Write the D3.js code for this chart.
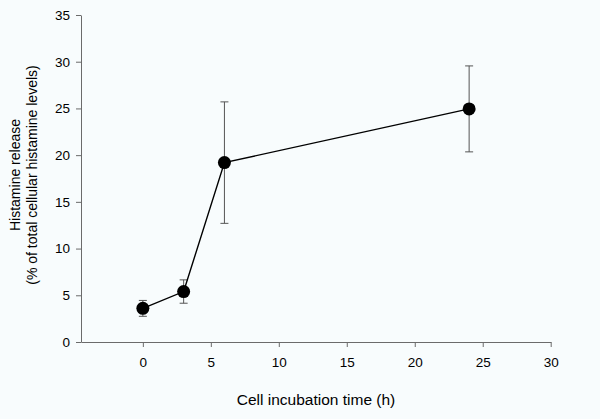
<!DOCTYPE html>
<html><head><meta charset="utf-8">
<script src="https://cdn.jsdelivr.net/npm/d3@7/dist/d3.min.js"></script>
<style>
html,body{margin:0;padding:0;background:#f8fcfd;}
svg{display:block;font-family:"Liberation Sans",Arial,sans-serif;}
</style></head><body>
<script>
const times = [0, 3, 6, 24];
const release = [3.6, 5.4, 19.2, 24.95];
const errors = [0.85, 1.25, 6.5, 4.6];
const xTicks = [0, 5, 10, 15, 20, 25, 30];
const yTicks = [0, 5, 10, 15, 20, 25, 30, 35];

const W = 600, H = 419;
const svg = d3.select("body").append("svg").attr("width", W).attr("height", H);
const x = d3.scaleLinear().domain([-4.55, 30]).range([81, 550.7]);
const y = d3.scaleLinear().domain([0, 35]).range([342, 15]);
const axisColor = "#6b6b6b";

const xa = svg.append("g").attr("transform", `translate(0,${y(0)})`)
  .call(d3.axisBottom(x).tickValues(xTicks).tickSize(5).tickPadding(10).tickSizeOuter(0));
const ya = svg.append("g").attr("transform", `translate(${x(-4.55)},0)`)
  .call(d3.axisLeft(y).tickValues(yTicks).tickSize(5).tickPadding(6).tickSizeOuter(0));
[xa, ya].forEach(a => {
  a.selectAll("path,line").attr("stroke", axisColor).attr("stroke-width", 1);
  a.selectAll("text").attr("fill", "#000").style("font-size", "13.5px");
});

// error bars
const eb = svg.append("g").attr("stroke", "#555").attr("stroke-width", 1);
times.forEach((t, i) => {
  const cx = x(t), top = y(release[i] + errors[i]), bot = y(release[i] - errors[i]);
  eb.append("line").attr("x1", cx).attr("x2", cx).attr("y1", top).attr("y2", bot);
  eb.append("line").attr("x1", cx - 4).attr("x2", cx + 4).attr("y1", top).attr("y2", top);
  eb.append("line").attr("x1", cx - 4).attr("x2", cx + 4).attr("y1", bot).attr("y2", bot);
});

const line = d3.line().x((d, i) => x(times[i])).y(d => y(d));
svg.append("path").datum(release).attr("d", line)
  .attr("fill", "none").attr("stroke", "#000").attr("stroke-width", 1.4);

svg.append("g").selectAll("circle").data(release).join("circle")
  .attr("cx", (d, i) => x(times[i])).attr("cy", d => y(d)).attr("r", 6.5).attr("fill", "#000");

svg.append("text").attr("x", 316).attr("y", 405).attr("text-anchor", "middle")
  .style("font-size", "15.5px").text("Cell incubation time (h)");
const yt = svg.append("text").attr("transform", "translate(20,175) rotate(-90)")
  .attr("text-anchor", "middle").style("font-size", "14px");
yt.append("tspan").attr("x", 0).attr("dy", 0).text("Histamine release");
yt.append("tspan").attr("x", 0).attr("dy", 17).text("(% of total cellular histamine levels)");
</script>
</body></html>
